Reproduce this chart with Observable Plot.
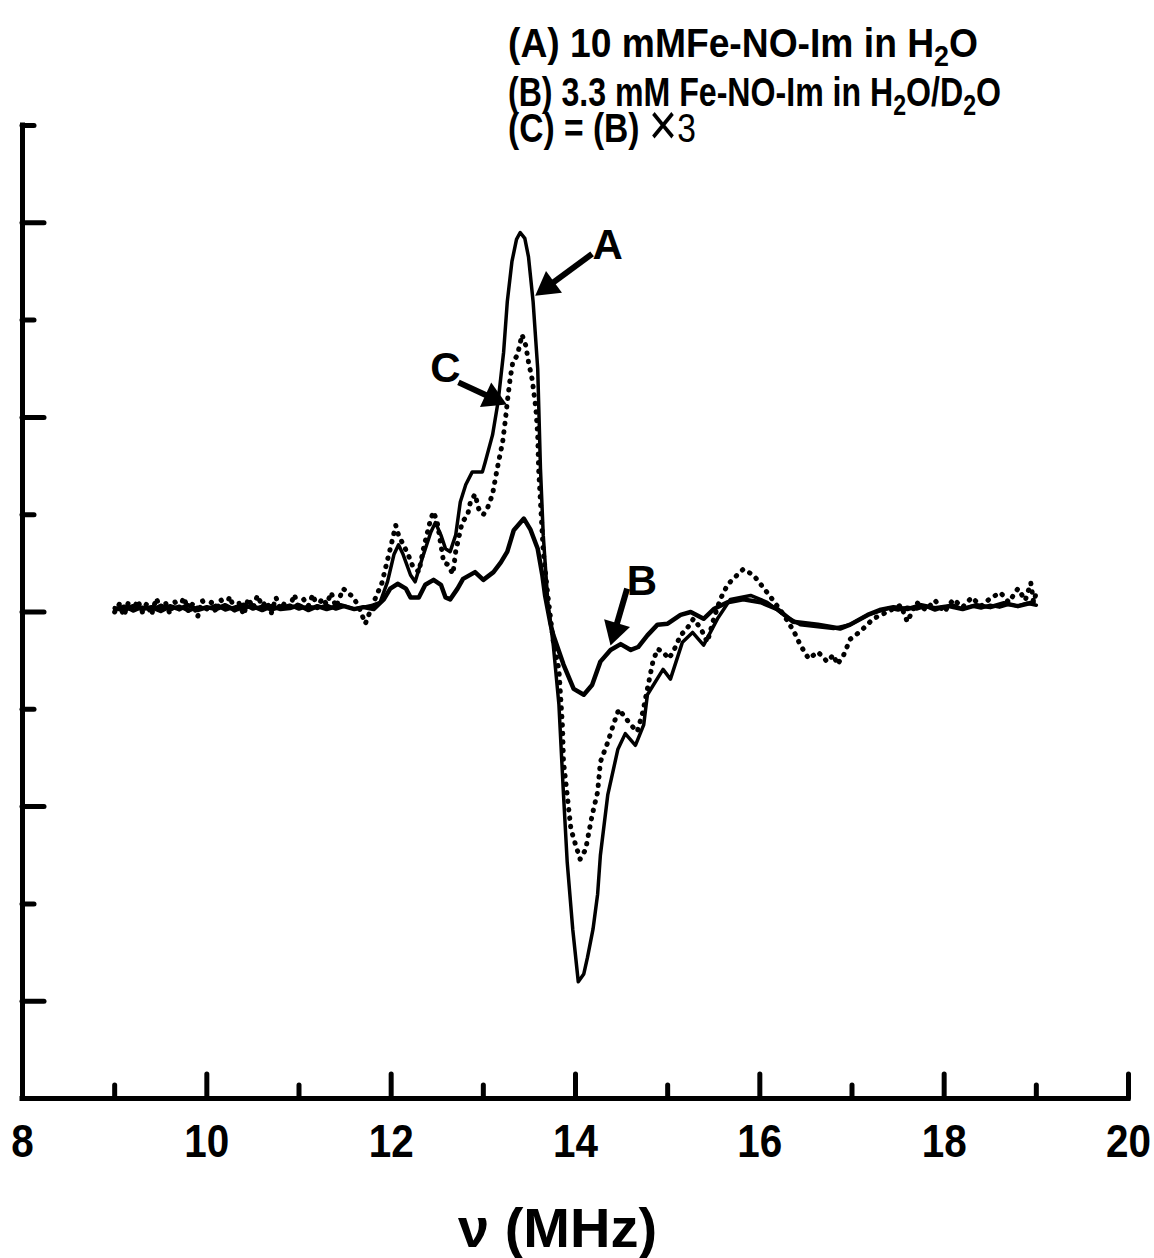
<!DOCTYPE html>
<html><head><meta charset="utf-8">
<script src="https://cdn.jsdelivr.net/npm/d3@7"></script>
<script src="https://cdn.jsdelivr.net/npm/@observablehq/plot@0.6"></script>
<style>
body{margin:0;background:#fff;}
#wrap{position:relative;width:1154px;height:1258px;font-family:"Liberation Sans",Arial,sans-serif;color:#000;}
.leg{position:absolute;left:508px;font-weight:bold;font-size:41px;white-space:nowrap;transform-origin:left top;line-height:41px;}
.leg sub{font-size:0.72em;vertical-align:-0.3em;line-height:0;}
.leg .times{font-weight:normal;font-size:1.45em;line-height:0;vertical-align:-0.05em;}
.leg .thin{font-weight:normal;}
</style></head>
<body><div id="wrap"></div>
<script>
// ---- Data (x: frequency in MHz, y: signal in axis tick units) ----
const xMajorTicks = [8, 10, 12, 14, 16, 18, 20];
const xMinorTicks = [9, 11, 13, 15, 17, 19];
const yMajorTicks = [-4, -2, 0, 2, 4];
const yMinorTicks = [-3, -1, 1, 3, 5];

// (A) 10 mM Fe-NO-Im in H2O (solid)
const seriesA = [
[9.0,0.03],[9.1,0.06],[9.2,0.01],[9.3,0.05],[9.4,0.02],[9.5,0.07],[9.6,0.03],[9.7,0.06],[9.8,0.01],[9.9,0.05],
[10.0,0.03],[10.1,0.07],[10.2,0.02],[10.3,0.05],[10.4,0.08],[10.5,0.03],[10.6,0.06],[10.7,0.02],[10.8,0.05],[10.9,0.07],
[11.0,0.03],[11.1,0.06],[11.2,0.04],[11.3,0.07],[11.4,0.03],[11.5,0.06],[11.6,0.03],[11.7,0.05],[11.8,0.07],
[11.88,0.1],[11.96,0.31],[12.03,0.59],[12.08,0.69],[12.13,0.59],[12.21,0.38],[12.26,0.31],[12.35,0.59],[12.43,0.82],
[12.48,0.92],[12.54,0.79],[12.59,0.65],[12.64,0.62],[12.7,0.79],[12.75,1.13],[12.81,1.31],[12.88,1.44],[12.99,1.44],
[13.02,1.54],[13.1,1.82],[13.16,2.16],[13.22,2.67],[13.26,3.19],[13.31,3.6],[13.36,3.83],[13.4,3.9],[13.45,3.84],[13.49,3.65],
[13.54,3.19],[13.59,2.5],[13.62,1.47],[13.65,0.79],[13.7,0.1],[13.76,-0.35],[13.82,-0.95],[13.87,-1.88],[13.91,-2.57],
[13.97,-3.26],[14.03,-3.8],[14.09,-3.72],[14.13,-3.55],[14.19,-3.26],[14.24,-2.9],[14.27,-2.5],[14.35,-1.88],[14.46,-1.41],[14.54,-1.25],
[14.65,-1.37],[14.74,-1.16],[14.78,-0.85],[14.95,-0.59],[15.03,-0.69],[15.16,-0.31],[15.27,-0.21],[15.39,-0.34],
[15.54,-0.07],[15.68,0.13],[15.9,0.17],[16.08,0.1],[16.26,-0.03],[16.44,-0.13],[16.8,-0.17],[16.98,-0.13],[17.17,-0.03],
[17.3,0.01],[17.4,0.04],[17.5,0.02],[17.6,0.05],[17.7,0.03],[17.8,0.06],[17.9,0.02],[18.0,0.05],[18.1,0.07],[18.2,0.03],
[18.3,0.06],[18.4,0.04],[18.5,0.07],[18.6,0.05],[18.7,0.08],[18.8,0.06],[18.9,0.09],[19.0,0.07]
];

// (B) 3.3 mM Fe-NO-Im in H2O/D2O (solid)
const seriesB = [
[9.0,0.04],[9.1,0.02],[9.2,0.06],[9.3,0.03],[9.4,0.05],[9.5,0.01],[9.6,0.06],[9.7,0.03],[9.8,0.07],[9.9,0.02],
[10.0,0.05],[10.1,0.03],[10.2,0.07],[10.3,0.02],[10.4,0.05],[10.5,0.06],[10.6,0.02],[10.7,0.06],[10.8,0.03],[10.9,0.04],
[11.0,0.07],[11.1,0.02],[11.2,0.06],[11.3,0.03],[11.45,0.07],[11.6,0.03],[11.7,0.05],[11.81,0.03],[11.92,0.13],
[11.99,0.24],[12.07,0.29],[12.16,0.24],[12.21,0.15],[12.3,0.15],[12.37,0.28],[12.46,0.33],[12.54,0.28],[12.59,0.15],
[12.64,0.13],[12.72,0.24],[12.78,0.34],[12.91,0.41],[13.0,0.33],[13.11,0.41],[13.19,0.51],[13.26,0.62],[13.33,0.84],
[13.44,0.96],[13.51,0.85],[13.59,0.65],[13.64,0.38],[13.67,0.17],[13.73,-0.13],[13.76,-0.24],[13.87,-0.54],[13.98,-0.79],
[14.09,-0.85],[14.18,-0.75],[14.27,-0.51],[14.38,-0.39],[14.49,-0.33],[14.6,-0.39],[14.68,-0.36],[14.78,-0.24],
[14.89,-0.13],[15.0,-0.12],[15.14,-0.03],[15.25,0.0],[15.39,-0.07],[15.5,0.03],[15.65,0.1],[15.82,0.13],[16.01,0.1],
[16.19,0.03],[16.36,-0.1],[16.63,-0.13],[16.87,-0.17],[16.98,-0.13],[17.17,-0.03],[17.3,0.02],[17.45,0.05],[17.6,0.03],
[17.75,0.07],[17.9,0.04],[18.05,0.06],[18.2,0.03],[18.35,0.07],[18.5,0.05],[18.65,0.09],[18.8,0.06],[18.97,0.1]
];

// (C) = (B) x 3 (dotted)
const seriesC = [
[9.0,0.0],[9.05,0.08],[9.1,-0.04],[9.15,0.1],[9.2,0.02],[9.25,0.12],[9.3,0.0],[9.35,0.09],[9.4,-0.03],[9.45,0.14],
[9.5,0.04],[9.55,0.1],[9.6,-0.02],[9.65,0.11],[9.7,0.03],[9.75,0.15],[9.8,0.01],[9.85,0.09],[9.9,-0.05],[9.95,0.12],
[10.0,0.03],[10.05,0.1],[10.1,0.0],[10.15,0.13],[10.2,0.05],[10.25,0.16],[10.3,0.02],[10.35,0.09],[10.4,-0.03],[10.45,0.14],
[10.5,0.04],[10.55,0.17],[10.6,0.06],[10.65,0.11],[10.7,-0.01],[10.75,0.15],[10.8,0.03],[10.85,0.1],[10.9,0.05],[10.95,0.18],
[11.0,0.02],[11.05,0.13],[11.1,0.06],[11.15,0.18],[11.2,0.04],[11.25,0.14],[11.3,0.08],[11.35,0.2],[11.4,0.05],[11.48,0.24],
[11.59,0.15],[11.65,0.05],[11.72,-0.12],[11.81,0.1],[11.9,0.3],[11.99,0.65],[12.05,0.89],[12.08,0.79],[12.18,0.6],
[12.23,0.48],[12.3,0.41],[12.35,0.65],[12.43,0.96],[12.46,1.03],[12.5,0.92],[12.57,0.51],[12.61,0.49],[12.67,0.39],
[12.7,0.62],[12.73,0.75],[12.77,0.92],[12.83,1.0],[12.86,1.13],[12.91,1.21],[12.95,1.06],[13.0,1.0],[13.05,1.08],
[13.1,1.21],[13.15,1.47],[13.21,1.75],[13.24,1.98],[13.26,2.16],[13.29,2.39],[13.32,2.57],[13.37,2.64],[13.42,2.85],
[13.46,2.74],[13.49,2.57],[13.53,2.39],[13.57,2.09],[13.59,1.82],[13.6,1.47],[13.62,1.13],[13.65,0.62],[13.7,0.17],
[13.76,-0.31],[13.82,-0.59],[13.86,-1.2],[13.87,-1.54],[13.91,-1.88],[13.95,-2.23],[14.0,-2.39],[14.05,-2.54],
[14.11,-2.44],[14.14,-2.29],[14.18,-2.09],[14.24,-1.85],[14.27,-1.54],[14.35,-1.34],[14.41,-1.16],[14.47,-1.0],
[14.52,-1.06],[14.6,-1.16],[14.67,-1.23],[14.73,-1.03],[14.78,-0.79],[14.84,-0.51],[14.89,-0.38],[14.95,-0.41],
[15.01,-0.48],[15.06,-0.41],[15.14,-0.24],[15.21,-0.17],[15.28,-0.07],[15.36,-0.17],[15.43,-0.31],[15.5,-0.07],
[15.57,0.13],[15.65,0.28],[15.71,0.34],[15.82,0.44],[15.93,0.38],[16.03,0.26],[16.12,0.15],[16.26,-0.03],[16.37,-0.2],
[16.44,-0.34],[16.53,-0.48],[16.63,-0.41],[16.73,-0.51],[16.8,-0.44],[16.84,-0.54],[16.91,-0.44],[16.98,-0.28],
[17.09,-0.2],[17.23,-0.07],[17.38,0.0],[17.53,0.07],[17.6,-0.1],[17.7,0.1],[17.8,0.02],[17.9,0.12],[18.0,0.0],
[18.1,0.13],[18.2,0.05],[18.3,0.15],[18.4,0.06],[18.5,0.14],[18.61,0.2],[18.7,0.1],[18.8,0.24],[18.88,0.12],
[18.94,0.3],[18.97,0.1],[19.0,0.2]
];

// Annotations (data coordinates)
const curveLabels = [
  {text: "A", x: 14.35, y: 3.77},
  {text: "C", x: 12.59, y: 2.5},
  {text: "B", x: 14.72, y: 0.31}
];
const curveArrows = [
  {x1: 14.18, y1: 3.68, x2: 13.62, y2: 3.29},
  {x1: 12.73, y1: 2.36, x2: 13.19, y2: 2.16},
  {x1: 14.56, y1: 0.24, x2: 14.4, y2: -0.28}
];
const legendLines = [
  'A) 10 mMFe-NO-Im in H<sub>2</sub>O',
  'B) 3.3 mM Fe-NO-Im in H<sub>2</sub>O/D<sub>2</sub>O',
  'C) = (B) <span class="times">×</span><span class="thin">3</span>'
];
const xLabel = "ν (MHz)";

// ---- Layout ----
const W = 1154, H = 1258;
const mL = 22, mR = 26, mT = 125, mB = 160;
const fw = W - mL - mR, fh = H - mT - mB;
const pxPerX = fw / 12, pxPerY = fh / 10;

// arrowheads: filled triangles at the tips, oriented along each arrow
const headLen = 20;
const arrowGeom = curveArrows.map(a => {
  const dx = (a.x2 - a.x1) * pxPerX, dy = -(a.y2 - a.y1) * pxPerY;
  const len = Math.hypot(dx, dy), ux = dx / len, uy = dy / len;
  const back = headLen * 0.45;
  return {
    ...a,
    sx2: a.x2 - ux * headLen * 0.8 / pxPerX,
    sy2: a.y2 + uy * headLen * 0.8 / pxPerY,
    hx: a.x2 - ux * back / pxPerX,
    hy: a.y2 + uy * back / pxPerY,
    rot: Math.atan2(ux, -uy) * 180 / Math.PI
  };
});

const chart = Plot.plot({
  width: W, height: H,
  marginLeft: mL, marginRight: mR, marginTop: mT, marginBottom: mB,
  x: {domain: [8, 20]},
  y: {domain: [-5, 5], axis: null},
  style: {fontFamily: '"Liberation Sans", Arial, sans-serif', background: "#fff", color: "#000", overflow: "visible"},
  marks: [
    Plot.axisX(xMajorTicks, {tickSize: 0, tickPadding: 26, fontSize: 46, fontWeight: "bold", tickFormat: d => String(d), label: null}),
    Plot.tickX(xMajorTicks, {x: d => d, insetTop: fh - 24, strokeWidth: 5, strokeLinecap: "round"}),
    Plot.tickX(xMinorTicks, {x: d => d, insetTop: fh - 13, strokeWidth: 5, strokeLinecap: "round"}),
    Plot.tickY(yMajorTicks, {y: d => d, insetRight: fw - 22, strokeWidth: 5, strokeLinecap: "round"}),
    Plot.tickY(yMinorTicks, {y: d => d, insetRight: fw - 12, strokeWidth: 5, strokeLinecap: "round"}),
    Plot.ruleY([-5], {strokeWidth: 5, strokeLinecap: "square"}),
    Plot.ruleX([8], {strokeWidth: 5, strokeLinecap: "square"}),
    Plot.line(seriesC, {x: d => d[0], y: d => d[1], strokeWidth: 5, strokeDasharray: "0.5 8", strokeLinecap: "round"}),
    Plot.line(seriesB, {x: d => d[0], y: d => d[1], strokeWidth: 4.5, strokeLinejoin: "round"}),
    Plot.line(seriesA, {x: d => d[0], y: d => d[1], strokeWidth: 3.5, strokeLinejoin: "round"}),
    Plot.link(arrowGeom, {x1: "x1", y1: "y1", x2: "sx2", y2: "sy2", strokeWidth: 6}),
    Plot.dot(arrowGeom, {x: "hx", y: "hy", symbol: "triangle", r: 10, fill: "#000", stroke: "none", rotate: "rot"}),
    Plot.text(curveLabels, {x: "x", y: "y", text: "text", fontSize: 42, fontWeight: "bold"}),
    Plot.text([xLabel], {frameAnchor: "bottom", dx: -18, dy: 131, fontSize: 56, fontWeight: "bold", lineAnchor: "middle"})
  ]
});

const wrap = document.getElementById("wrap");
wrap.appendChild(chart);

// compress tick labels horizontally (narrow typeface in original)
chart.querySelectorAll('[aria-label="x-axis tick label"] text').forEach(t => {
  const w = t.getComputedTextLength();
  t.setAttribute("textLength", (w * 0.88).toFixed(1));
  t.setAttribute("lengthAdjust", "spacingAndGlyphs");
});

// legend block above the frame
const legendTops = [23, 72, 108];
const legendWidths = [470, 493, 188];
legendLines.forEach((html, i) => {
  const d = document.createElement("div");
  d.className = "leg";
  d.style.top = legendTops[i] + "px";
  d.innerHTML = "(" + html;
  wrap.appendChild(d);
  const w = d.getBoundingClientRect().width;
  d.style.transform = `scaleX(${legendWidths[i] / w})`;
});
</script>
</body></html>
